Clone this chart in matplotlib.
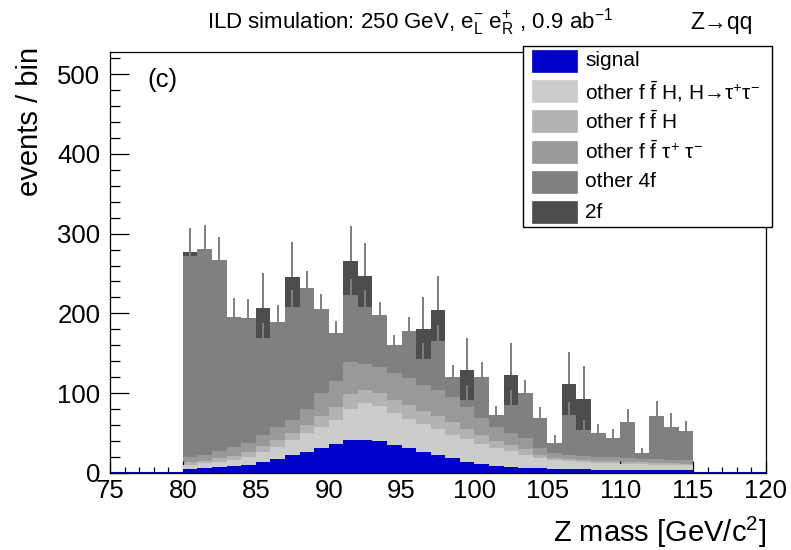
import numpy as np
import matplotlib
matplotlib.use('Agg')
import matplotlib.pyplot as plt
from matplotlib.patches import Rectangle

plt.rcParams['font.family'] = ['Liberation Sans', 'DejaVu Sans']
plt.rcParams['mathtext.fontset'] = 'custom'
plt.rcParams['mathtext.rm'] = 'Liberation Sans'
plt.rcParams['mathtext.it'] = 'Liberation Sans:italic'
plt.rcParams['mathtext.bf'] = 'Liberation Sans:bold'
plt.rcParams['mathtext.default'] = 'regular'

# ---------------- data ----------------
bin_edges = np.arange(80, 116, 1)   # Z mass bins, 1 GeV wide, 80..115

signal = [4.6, 6.0, 7.2, 8.5, 10.0, 14.0, 17.0, 22.5, 26.7, 31.0, 36.0, 41.4, 41.4, 40.5,
          35.0, 31.0, 26.7, 22.6, 18.4, 14.2, 11.3, 9.2, 7.9, 6.7, 5.8, 5.2, 4.8, 4.5,
          4.3, 4.0, 3.8, 3.6, 3.5, 3.3, 3.2]
ffH_tautau = [5.4, 6.0, 6.8, 7.8, 10.5, 12.7, 16.0, 18.9, 23.0, 27.0, 30.4, 38.6, 45.9, 43.5,
              40.0, 37.0, 35.3, 32.4, 29.6, 27.8, 24.7, 21.8, 19.1, 16.3, 13.2, 10.8, 9.7, 9.0,
              8.2, 8.0, 7.7, 7.4, 7.0, 6.7, 6.3]
ffH_other = [3.5, 3.5, 4.3, 5.5, 6.0, 7.0, 8.3, 8.5, 10.0, 14.0, 16.0, 19.0, 17.0, 16.5,
             16.5, 17.0, 16.0, 16.0, 15.5, 13.5, 11.0, 9.0, 7.5, 7.0, 4.0, 3.0, 2.7, 2.7,
             2.7, 2.5, 2.3, 2.2, 2.2, 2.2, 2.2]
fftautau = [7.0, 7.1, 8.7, 11.2, 11.5, 13.9, 16.7, 16.5, 20.3, 28.0, 32.6, 40.0, 32.7, 32.5,
            33.5, 33.6, 32.0, 33.0, 32.1, 27.5, 21.5, 18.0, 15.2, 13.4, 8.0, 5.6, 5.3, 5.3,
            5.3, 5.0, 4.7, 4.3, 4.3, 4.3, 4.3]
other_4f = [251.5, 257.7, 240.0, 162.0, 156.5, 121.1, 130.8, 141.2, 151.4, 105.0, 60.0, 83.5,
            71.5, 65.0, 35.4, 59.7, 32.9, 61.8, 25.1, 8.5, 52.2, 14.7, 35.5, 56.4, 37.5, 12.6,
            50.2, 32.4, 30.0, 23.9, 45.8, 7.1, 54.8, 41.5, 36.6]
twof = [4.6, 0, 0, 0, 0, 37.6, 0, 38.4, 0, 0, 0, 43.2, 38.5, 0, 0, 0, 37.6, 38.5, 0, 37.5,
        0, 0, 37.6, 0, 0, 0, 38.3, 38.8, 0, 0, 0, 0, 0, 0, 0]

# statistical error bars (upper halves visible)
err_4f = [29.0, 30.5, 29.0, 24.0, 23.0, 19.0, 22.0, 22.0, 22.0, 19.0, 16.0, 20.0, 20.5, 16.7,
          12.6, 17.7, 19.6, 19.7, 14.6, 18.5, 18.0, 11.3, 18.8, 16.7, 13.8, 10.0, 16.7, 13.0,
          10.5, 11.3, 15.5, 6.4, 18.4, 16.8, 12.9]
err_2f = [30.0, 0, 0, 0, 0, 44.0, 0, 44.0, 0, 0, 0, 44.0, 41.6, 0, 0, 0, 40.5, 42.7, 0, 39.7,
          0, 0, 40.5, 0, 0, 0, 41.0, 41.3, 0, 0, 0, 0, 0, 0, 0]

labels = ['signal',
          'other f $\\bar{f}$ H, H→τ$^{+}$τ$^{-}$',
          'other f $\\bar{f}$ H',
          'other f $\\bar{f}$ τ$^{+}$ τ$^{-}$',
          'other 4f',
          '2f']
colors = ['#0000cc', '#cccccc', '#b3b3b3', '#999999', '#808080', '#4d4d4d']

# ---------------- figure ----------------
W, H = 791, 550
fig = plt.figure(figsize=(W / 100, H / 100), dpi=100)
ax = fig.add_axes([110 / W, 77 / H, 656 / W, 421 / H])

layers = [np.array(v, dtype=float) for v in (signal, ffH_tautau, ffH_other, fftautau, other_4f, twof)]
cum = np.cumsum(np.vstack(layers), axis=0)
centers = 0.5 * (bin_edges[:-1] + bin_edges[1:])

# ROOT-like stack drawing: top sum first, then lower sums on top of it
z = 1.0
for i in range(len(layers) - 1, -1, -1):
    ax.stairs(cum[i], bin_edges, baseline=0, fill=True, color=colors[i], lw=0, zorder=z)
    z += 0.1
    if i == 5:
        m = np.array(err_2f) > 0
        ax.vlines(centers[m], cum[5][m], cum[5][m] + np.array(err_2f)[m],
                  colors='#7c7c7c', lw=1.4, zorder=z - 0.15)
    if i == 4:
        ax.vlines(centers, cum[4], cum[4] + np.array(err_4f),
                  colors='#808080', lw=1.4, zorder=z)
        z += 0.1

ax.axhline(0, color='#0000cc', lw=1.5, zorder=z)

ax.set_xlim(75, 120)
ax.set_ylim(0, 527.6)
ax.set_xticks(np.arange(75, 121, 5))
ax.set_xticks(np.arange(75, 121, 1), minor=True)
ax.set_yticks(np.arange(0, 501, 100))
ax.set_yticks(np.arange(0, 521, 20), minor=True)
ax.tick_params(axis='both', which='both', direction='in', top=False, right=False,
               width=0.9, labelsize=18.5)
ax.tick_params(axis='x', which='major', length=9, pad=4)
ax.tick_params(axis='x', which='minor', length=4.5)
ax.tick_params(axis='y', which='major', length=14, pad=7)
ax.tick_params(axis='y', which='minor', length=7)
for s in ax.spines.values():
    s.set_linewidth(0.9)
    s.set_zorder(5)

fig.text(147 / W, 1 - 80 / H, '(c)', fontsize=18.5, va='center', ha='left')

# titles
fig.text(207 / W, 1 - 22 / H, 'ILD simulation: 250 GeV, $e^{-}_{L}$ $e^{+}_{R}$ , 0.9 ab$^{-1}$',
         fontsize=16, ha='left', va='center')
fig.text(690 / W, 1 - 22 / H, 'Z→qq', fontsize=16.5, ha='left', va='center')
fig.text(766 / W, 1 - 532 / H, 'Z mass [GeV/c$^{2}$]', fontsize=21, ha='right', va='center')
fig.text(30 / W, 1 - 47 / H, 'events / bin', fontsize=21, rotation=90, ha='center', va='top')

# legend (manual, ROOT TLegend style)
lx0, lx1, ly0, ly1 = 523, 772, 46, 227
fig.add_artist(Rectangle((lx0 / W, 1 - ly1 / H), (lx1 - lx0) / W, (ly1 - ly0) / H,
                         transform=fig.transFigure, facecolor='white', edgecolor='black',
                         lw=1.0, zorder=10))
for k, (lab, col) in enumerate(zip(labels, colors)):
    yc = 61 + 30.2 * k
    fig.add_artist(Rectangle((532 / W, 1 - (yc + 11) / H), 45 / W, 22 / H,
                             transform=fig.transFigure, facecolor=col, edgecolor=col,
                             lw=0.5, zorder=11))
    fig.text(585 / W, 1 - yc / H, lab, fontsize=15, ha='left', va='center', zorder=12)

fig.savefig('out.png', dpi=100)
